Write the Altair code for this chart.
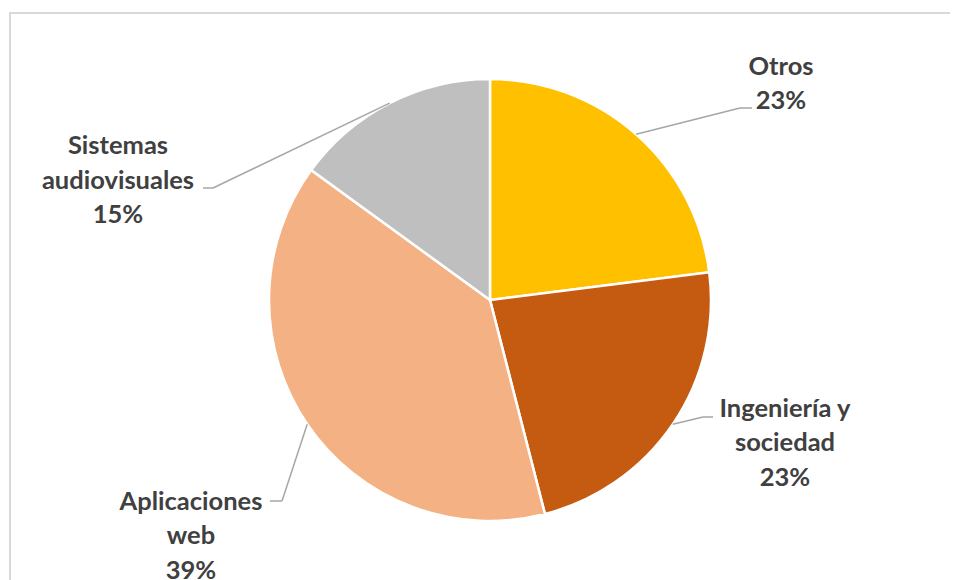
import math
import altair as alt
import pandas as pd

# ---- data ----
categories = ["Otros", "Ingeniería y sociedad", "Aplicaciones web", "Sistemas audiovisuales"]
percents = [23, 23, 39, 15]
label_lines = [
    ["Otros"],
    ["Ingeniería y", "sociedad"],
    ["Aplicaciones", "web"],
    ["Sistemas", "audiovisuales"],
]
colors = ["#FFC000", "#C55A11", "#F4B183", "#BFBFBF"]

# ---- layout (pixels, relative to pie centre, y up) ----
W, H = 942, 572
CX, CY = 482, 292          # pie centre inside the view
R = 221
label_pos = [(291, 233.5), (295, -108.5), (-299, -201.5), (-372, 154)]
elbows = [(250, 192), (213, -117), (-208, -201), (-277, 112)]
ends = [(262, 192), (223, -117), (-220, -201), (-287, 112)]

total = sum(percents)
pie = pd.DataFrame({
    "cat": categories,
    "pct": percents,
    "order": list(range(len(categories))),
})

# leader line segments computed from slice mid-angles
segs = []
cum = 0
for i, p in enumerate(percents):
    mid = (cum + p / 2) / total * 2 * math.pi
    cum += p
    sx, sy = R * math.sin(mid), R * math.cos(mid)
    ex, ey = elbows[i]
    fx, fy = ends[i]
    segs.append({"x": sx, "y": sy, "x2": ex, "y2": ey})
    segs.append({"x": ex, "y": ey, "x2": fx, "y2": fy})
seg_df = pd.DataFrame(segs)

lab_df = pd.DataFrame({
    "text": [lines + [f"{p}%"] for lines, p in zip(label_lines, percents)],
    "x": [p[0] for p in label_pos],
    "y": [p[1] for p in label_pos],
})

xs = alt.Scale(domain=[-CX, W - CX], zero=False, nice=False)
ys = alt.Scale(domain=[-(H - CY), CY], zero=False, nice=False)

arcs = alt.Chart(pie).mark_arc(radius=R, stroke="white", strokeWidth=2.5).encode(
    theta=alt.Theta("pct:Q", stack=True),
    order=alt.Order("order:Q"),
    color=alt.Color("cat:N", scale=alt.Scale(domain=categories, range=colors), legend=None),
    x=alt.datum(0, scale=xs, axis=None),
    y=alt.datum(0, scale=ys, axis=None),
)

leaders = alt.Chart(seg_df).mark_rule(color="#a6a6a6", strokeWidth=1.5).encode(
    x=alt.X("x:Q", scale=xs, axis=None),
    y=alt.Y("y:Q", scale=ys, axis=None),
    x2="x2:Q",
    y2="y2:Q",
)

labels = alt.Chart(lab_df).mark_text(
    font="Lato", fontWeight="bold", fontSize=25.5, lineHeight=34.5,
    color="#404040", align="center", baseline="middle",
).encode(
    x=alt.X("x:Q", scale=xs, axis=None),
    y=alt.Y("y:Q", scale=ys, axis=None),
    text="text",
)

border_df = pd.DataFrame({"k": [0]})
top_line = alt.Chart(border_df).mark_rule(color="#d9d9d9", strokeWidth=2).encode(
    x=alt.value(2), x2=alt.value(W), y=alt.value(5)
)
left_line = alt.Chart(border_df).mark_rule(color="#d9d9d9", strokeWidth=2).encode(
    x=alt.value(2), y=alt.value(4), y2=alt.value(H)
)

chart = alt.layer(top_line, left_line, arcs, leaders, labels).properties(
    width=W, height=H, padding=0, autosize="none", background="white"
).configure_view(stroke=None)

chart.save("out.html", embed_options={"renderer": "svg", "actions": False})
